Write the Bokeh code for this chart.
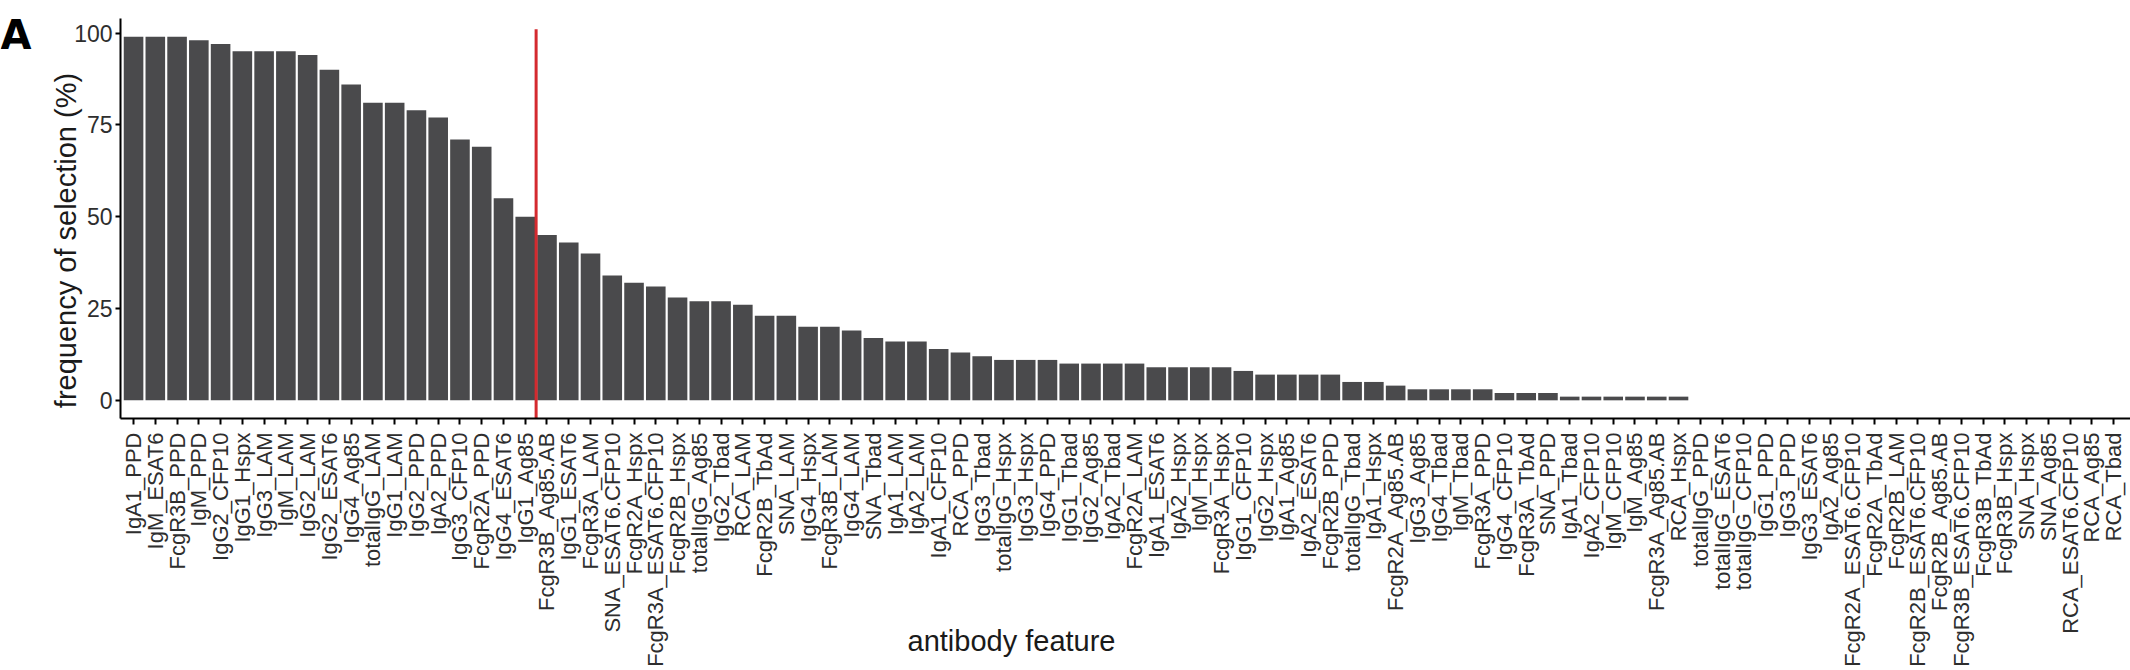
import numpy as np
from bokeh.plotting import figure
from bokeh.models import Range1d, FixedTicker, Label, ColumnDataSource
from bokeh.embed import file_html
from bokeh.resources import INLINE

features = [
    "IgA1_PPD", "IgM_ESAT6", "FcgR3B_PPD", "IgM_PPD", "IgG2_CFP10", "IgG1_Hspx",
    "IgG3_LAM", "IgM_LAM", "IgG2_LAM", "IgG2_ESAT6", "IgG4_Ag85", "totalIgG_LAM",
    "IgG1_LAM", "IgG2_PPD", "IgA2_PPD", "IgG3_CFP10", "FcgR2A_PPD", "IgG4_ESAT6",
    "IgG1_Ag85", "FcgR3B_Ag85.AB", "IgG1_ESAT6", "FcgR3A_LAM", "SNA_ESAT6.CFP10",
    "FcgR2A_Hspx", "FcgR3A_ESAT6.CFP10", "FcgR2B_Hspx", "totalIgG_Ag85", "IgG2_Tbad",
    "RCA_LAM", "FcgR2B_TbAd", "SNA_LAM", "IgG4_Hspx", "FcgR3B_LAM", "IgG4_LAM",
    "SNA_Tbad", "IgA1_LAM", "IgA2_LAM", "IgA1_CFP10", "RCA_PPD", "IgG3_Tbad",
    "totalIgG_Hspx", "IgG3_Hspx", "IgG4_PPD", "IgG1_Tbad", "IgG2_Ag85", "IgA2_Tbad",
    "FcgR2A_LAM", "IgA1_ESAT6", "IgA2_Hspx", "IgM_Hspx", "FcgR3A_Hspx", "IgG1_CFP10",
    "IgG2_Hspx", "IgA1_Ag85", "IgA2_ESAT6", "FcgR2B_PPD", "totalIgG_Tbad", "IgA1_Hspx",
    "FcgR2A_Ag85.AB", "IgG3_Ag85", "IgG4_Tbad", "IgM_Tbad", "FcgR3A_PPD", "IgG4_CFP10",
    "FcgR3A_TbAd", "SNA_PPD", "IgA1_Tbad", "IgA2_CFP10", "IgM_CFP10", "IgM_Ag85",
    "FcgR3A_Ag85.AB", "RCA_Hspx", "totalIgG_PPD", "totalIgG_ESAT6", "totalIgG_CFP10",
    "IgG1_PPD", "IgG3_PPD", "IgG3_ESAT6", "IgA2_Ag85", "FcgR2A_ESAT6.CFP10",
    "FcgR2A_TbAd", "FcgR2B_LAM", "FcgR2B_ESAT6.CFP10", "FcgR2B_Ag85.AB",
    "FcgR3B_ESAT6.CFP10", "FcgR3B_TbAd", "FcgR3B_Hspx", "SNA_Hspx", "SNA_Ag85",
    "RCA_ESAT6.CFP10", "RCA_Ag85", "RCA_Tbad",
]

frequency = [
    99, 99, 99, 98, 97, 95, 95, 95, 94, 90, 86, 81, 81, 79, 77, 71, 69, 55, 50,
    45, 43, 40, 34, 32, 31, 28, 27, 27, 26, 23, 23, 20, 20, 19, 17, 16, 16, 14,
    13, 12, 11, 11, 11, 10, 10, 10, 10, 9, 9, 9, 9, 8, 7, 7, 7, 7, 5, 5, 4, 3,
    3, 3, 3, 2, 2, 2, 1, 1, 1, 1, 1, 1,
    0, 0, 0, 0, 0, 0, 0, 0, 0, 0, 0, 0, 0, 0, 0, 0, 0, 0, 0, 0,
]

y_ticks = [0, 25, 50, 75, 100]
n_selected = 19          # features left of the red cut-off line
cutoff_top = 101         # height of the red cut-off line

positions = list(range(1, len(features) + 1))

# ---- layout (canvas pixels) ----
CANVAS_W, CANVAS_H = 2130, 670
PANEL_LEFT, PANEL_TOP, PANEL_W, PANEL_H = 120, 18, 2010, 400
PX_PER_X = 21.76
X_START = 0.4                       # left edge of the bar panel (data units)
X_END = X_START + PANEL_W / PX_PER_X
Y_START, Y_END = -4.95, 103.95      # panel limits (data units)
PX_PER_Y = PANEL_H / (Y_END - Y_START)

XR0 = X_START - PANEL_LEFT / PX_PER_X
XR1 = XR0 + CANVAS_W / PX_PER_X
YR1 = Y_END + PANEL_TOP / PX_PER_Y
YR0 = YR1 - CANVAS_H / PX_PER_Y

def px_to_x(px):
    return XR0 + px / PX_PER_X

def py_to_y(py):
    return YR1 - py / PX_PER_Y

FONT = "Liberation Sans"
TICK_COLOR = "#2e2e2e"

p = figure(
    width=CANVAS_W, height=CANVAS_H,
    x_range=Range1d(XR0, XR1), y_range=Range1d(YR0, YR1),
    output_backend="svg", toolbar_location=None,
    min_border=0,
    background_fill_color="white", border_fill_color="white",
)
p.outline_line_color = None
p.grid.visible = False

src = ColumnDataSource(dict(x=positions, top=frequency))
p.vbar(x="x", top="top", bottom=0, width=0.9, source=src,
       fill_color="#4a4a4c", line_color=None)

cut_src = ColumnDataSource(dict(x0=[n_selected + 0.5], y0=[Y_START],
                                x1=[n_selected + 0.5], y1=[cutoff_top]))
p.segment(x0="x0", y0="y0", x1="x1", y1="y1", source=cut_src,
          line_color="#D42A2F", line_width=3)

# x axis
xa = p.xaxis[0]
xa.fixed_location = Y_START
xa.bounds = (X_START, X_END)
xa.ticker = FixedTicker(ticks=positions)
xa.major_label_overrides = {i: f for i, f in zip(positions, features)}
xa.major_label_orientation = np.pi / 2
xa.major_label_standoff = 8
xa.major_tick_out = 6
xa.major_tick_in = 0
xa.minor_tick_line_color = None
xa.axis_line_width = 2
xa.major_tick_line_width = 2
xa.axis_line_color = "black"
xa.major_tick_line_color = "black"
xa.major_label_text_font = FONT
xa.major_label_text_font_size = "22px"
xa.major_label_text_color = TICK_COLOR

# y axis
ya = p.yaxis[0]
ya.fixed_location = X_START
ya.bounds = (Y_START, Y_END)
ya.ticker = FixedTicker(ticks=y_ticks)
ya.major_label_standoff = 3
ya.major_tick_out = 5
ya.major_tick_in = 0
ya.minor_tick_line_color = None
ya.axis_line_width = 2
ya.major_tick_line_width = 2
ya.axis_line_color = "black"
ya.major_tick_line_color = "black"
ya.major_label_text_font = FONT
ya.major_label_text_font_size = "23px"
ya.major_label_text_color = TICK_COLOR

# titles
p.add_layout(Label(x=px_to_x(65), y=py_to_y(240), text="frequency of selection (%)",
                   angle=np.pi / 2, text_align="center", text_baseline="alphabetic",
                   text_font=FONT, text_font_size="29px", text_color="#1a1a1a"))
p.add_layout(Label(x=px_to_x(1011), y=py_to_y(640), text="antibody feature",
                   text_align="center", text_baseline="alphabetic",
                   text_font=FONT, text_font_size="29px", text_color="#1a1a1a"))
p.add_layout(Label(x=px_to_x(0), y=py_to_y(34), text="A",
                   text_align="left", text_baseline="alphabetic",
                   text_font="DejaVu Sans", text_font_size="40px",
                   text_font_style="bold", text_color="black"))

open("out.html", "w").write(file_html(p, INLINE))
